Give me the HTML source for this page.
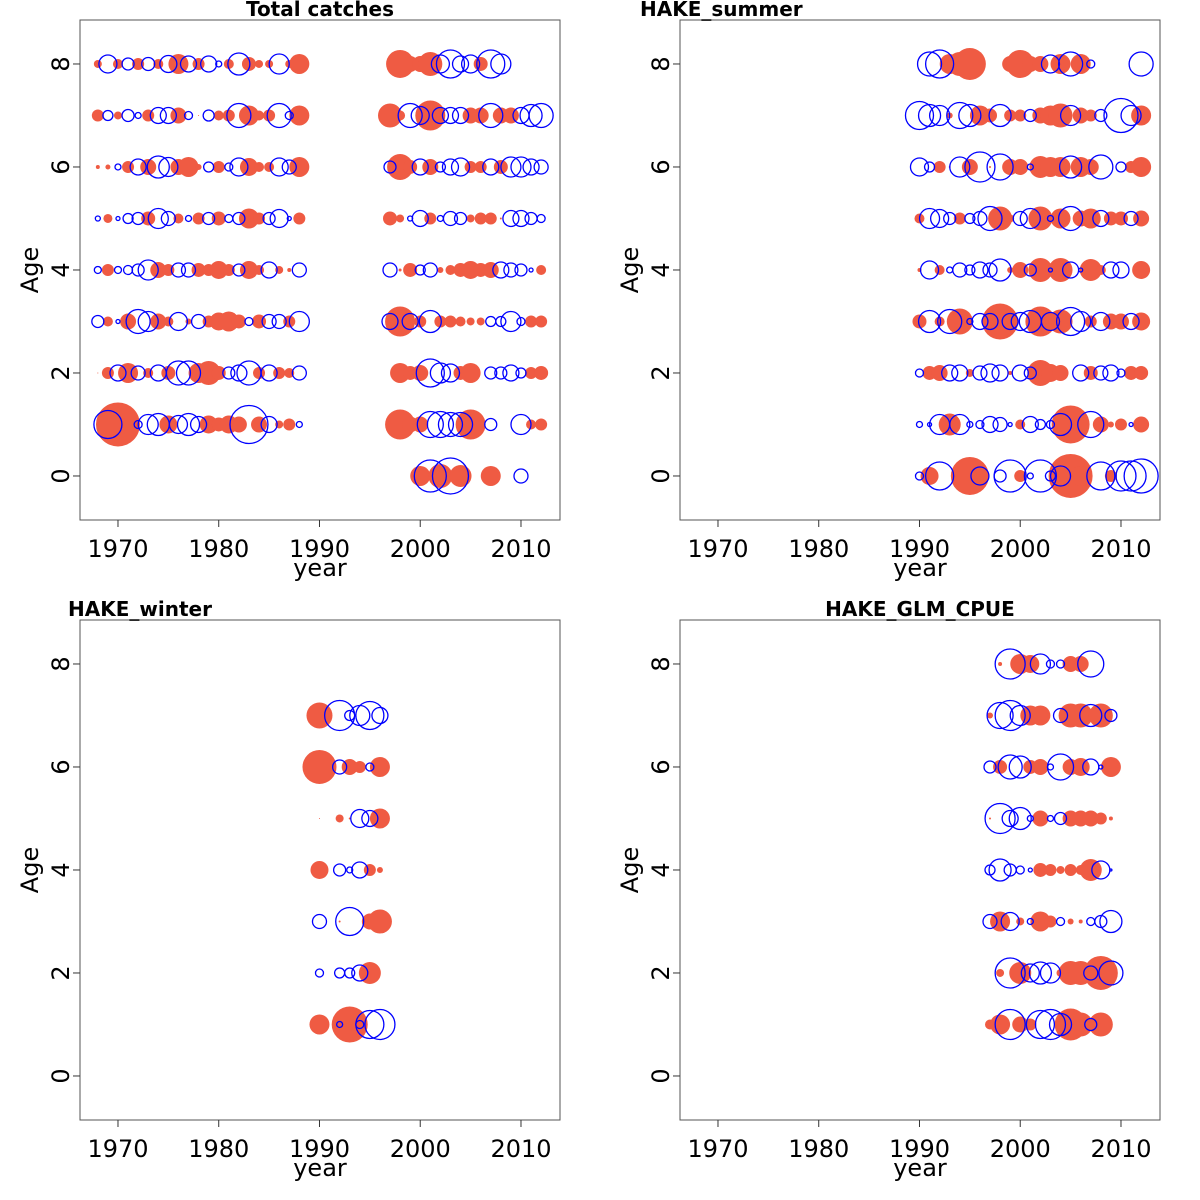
<!DOCTYPE html>
<html><head><meta charset="utf-8"><title>Residual bubble plots</title>
<style>
html,body{margin:0;padding:0;background:#fff;}
svg{display:block;font-family:"DejaVu Sans","Liberation Sans",sans-serif;}
</style></head>
<body>
<svg id="chart" width="1200" height="1200" viewBox="0 0 1200 1200" xmlns="http://www.w3.org/2000/svg"></svg>
<script>
// ---- data (signed residuals; positive = filled red, negative = open blue) ----
const xTicks = [1970, 1980, 1990, 2000, 2010];
const yTicks = [0, 2, 4, 6, 8];

const tcYears = [1968,1969,1970,1971,1972,1973,1974,1975,1976,1977,1978,1979,1980,1981,1982,1983,1984,1985,1986,1987,1988,
                 1997,1998,1999,2000,2001,2002,2003,2004,2005,2006,2007,2008,2009,2010,2011,2012];
const tcAge8 = [4,-9,5,-6,6,-6.5,5,-8.5,10,-8,6,-8,-3,5,-11,7,4,4,-10,4,10,
                0,14,8,8,12,-9,-14,-8,-9,7,-14,-10,0,0,0,0];
const tcAge7 = [6,-5,4,-6,-3,6,-8,-8,8,-4,0.5,-5.5,5,6,-12,10,5,6,-12,-4,10,
                12,5,-12,-9,15,-8,-8,-8,8,8,-12,8,8,-8,-11,-12];
const tcAge6 = [2,2.5,-3,6,-8,8,-11,-9.5,8,10,3,-5,6,-4,-9,9,5,5,-9,-7,10,
                -6,13,7,-8,8,-5,-8,-9,6,6,-8,7,-10,-10,-8,-7];
const tcAge5 = [-2.5,4.5,-2,-5,-6,7,-10,-7,5,-3,6,-6,7,-4,-6,10,6,-6,-9,-2,6,
                7,4,-2.5,-8,6,-3,-7,-6,4,6,6,1,-8,-8,-6,-4];
const tcAge4 = [-3.5,6,-3.5,-4.5,-6,-10,8,6,-7,-7,7,6,9,6,-6,9,5,-8,4,2,-7,
                -7,1.5,7,-5,-7,3,5,7,9,7,8,-8,-7,-6,-2,5];
const tcAge3 = [-6,5,-2,8,-12,-10,8,5,-9,3,-7,6,9,10,7,-4,7,-7,-7,6,-10,
                -8,15,-8,6,-11,6,6,5,4,4,-5,-5,-10,-4,6,6];
const tcAge2 = [0.5,6,-8,10,-7,5,-8,7,-12,-12,10,12,7,-6,-8,-12,6,-8,6,5,-7,
                0,10,7,8,-14,-10,-9,7,10,0,-6,-6,-8,-5,6,7];
const tcAge1 = [0,-14,22,0,-4,-10,-11,9,-9,-11,-8,9,7,9,8,-19,8,-8,4,6,-3,
                0,15,8,8,-13,-13,-12,-12,15,0,-6,0,0,-10,5,6];
const tcAge0 = [0,0,0,0,0,0,0,0,0,0,0,0,0,0,0,0,0,0,0,0,0,
                0,0,0,10,-16,12,-18,11,0,0,10,0,0,-7,0,0];

const suYears = [1990,1991,1992,1993,1994,1995,1996,1997,1998,1999,2000,2001,2002,2003,2004,2005,2006,2007,2008,2009,2010,2011,2012];
const suAge8 = [0,-12,-14,10,12,16,0,0,0,8,14,8,8,-9,10,-12,10,-4,0,0,0,0,-12];
const suAge7 = [-14,-11,-10,3,-13,-11,10,7,-11,6,6,-6,8,10,12,-10,8,6,-6,0,-17,-10,10];
const suAge6 = [-9,-5,6,1,-10,8,-15,1,-13,8,8,-3,11,10,10,-11,10,8,-12,0,-5,6,10];
const suAge5 = [5,-10,-9,-6,6,-5,-7,-12,12,4,-7,-10,12,-3,10,-12,8,10,-8,7,7,-7,8];
const suAge4 = [2,-9,5,-3,-7,-5,-8,-7,-11,3,8,-6,12,-2,12,-8,-2,11,5,-8,-8,0,9];
const suAge3 = [7,-11,5,-12,13,-3,-8,-8,18,-8,-9,-11,15,-9,12,-14,-10,6,-9,8,8,-8,9];
const suAge2 = [-4,7,8,-8,-8,4,-7,-9,-8,2,-8,-6,13,9,8,0,-8,7,-7,-8,-4,7,7];
const suAge1 = [-3,-2,-10,11,-10,-3,-4,-8,-7,-2,5,-8,-5,-4,-11,19,0,-13,8,3,6,-2,8];
const suAge0 = [-4,9,-14,0,0,19,-9,0,-6,-16,6,-3,-16,-5,-10,22,10,0,-14,6,-15,-15,-17];

const wiYears = [1990,1991,1992,1993,1994,1995,1996];
const wiAge7 = [13,0,-15,-5,-10,-14,-8];
const wiAge6 = [17,0,-7,8,6,-4,10];
const wiAge5 = [0.5,0,4,1,-9,-8,10];
const wiAge4 = [9,0,-6,-3,-8,6,3];
const wiAge3 = [-7,0,1,-14,0,8,12];
const wiAge2 = [-4,0,-5,-5,-8,11,0];
const wiAge1 = [10,0,-3,18,-4,-14,-15];

const cpYears = [1997,1998,1999,2000,2001,2002,2003,2004,2005,2006,2007,2008,2009];
const cpAge8 = [0,2,-15,10,9,-10,-4,-4,8,8,-13,0,0];
const cpAge7 = [3,-13,-15,-10,10,10,0,-7,12,12,-11,12,-6];
const cpAge6 = [-6,7,-12,-11,7,8,-3,-13,8,9,-8,-2,10];
const cpAge5 = [1,-15,-8,-11,-3,8,-3,-6,8,8,8,6,2];
const cpAge4 = [-5,-11,-6,-4,-2,7,6,4,6,5,11,-9,-1];
const cpAge3 = [-7,10,-9,4,-3,10,6,-4,3,2,-4,-6,-11];
const cpAge2 = [0,4,-15,11,-9,-11,-10,4,12,12,-7,17,-12];
const cpAge1 = [5,10,-15,8,6,-14,-15,-11,16,12,-6,12,0];

// ---- rendering ----
const NS = "http://www.w3.org/2000/svg";
const svg = document.getElementById('chart');
const RED = "#EF5B43", BLUE = "#0000FF";
const X0 = 1966.23, XPX = 10.075, Y0 = 8.854, YPX = 51.5, BUBBLE = 1.0;

function mk(tag, attrs, parent) {
  const e = document.createElementNS(NS, tag);
  for (const k in attrs) e.setAttribute(k, attrs[k]);
  (parent || svg).appendChild(e);
  return e;
}

const panels = [
  {key:'total-catches', title:'Total catches', tx:320, anchor:'middle', left:80, top:20, years:tcYears,
   rows:[[8,tcAge8],[7,tcAge7],[6,tcAge6],[5,tcAge5],[4,tcAge4],[3,tcAge3],[2,tcAge2],[1,tcAge1],[0,tcAge0]]},
  {key:'hake-summer', title:'HAKE_summer', tx:640, anchor:'start', left:680, top:20, years:suYears,
   rows:[[8,suAge8],[7,suAge7],[6,suAge6],[5,suAge5],[4,suAge4],[3,suAge3],[2,suAge2],[1,suAge1],[0,suAge0]]},
  {key:'hake-winter', title:'HAKE_winter', tx:68, anchor:'start', left:80, top:620, years:wiYears,
   rows:[[7,wiAge7],[6,wiAge6],[5,wiAge5],[4,wiAge4],[3,wiAge3],[2,wiAge2],[1,wiAge1]]},
  {key:'hake-glm-cpue', title:'HAKE_GLM_CPUE', tx:920, anchor:'middle', left:680, top:620, years:cpYears,
   rows:[[8,cpAge8],[7,cpAge7],[6,cpAge6],[5,cpAge5],[4,cpAge4],[3,cpAge3],[2,cpAge2],[1,cpAge1]]}
];

panels.forEach(p => {
  const g = mk('g', {});
  
  
  const xs = yr => p.left + (yr - X0) * XPX;
  const ys = a => p.top + (Y0 - a) * YPX;
  const W = 480, H = 500;

  const t = mk('text', {x:p.tx, y:p.top - 4, 'text-anchor':p.anchor, 'font-size':20, 'font-weight':'bold', fill:'#000'}, g);
  t.textContent = p.title;
  
  

  const box = mk('rect', {x:p.left, y:p.top, width:W, height:H, fill:'none', stroke:'#555', 'stroke-width':1}, g);
  
  

  const xa = mk('g', {}, g);
  
  
  xTicks.forEach(v => {
    const x = xs(v);
    mk('line', {x1:x, x2:x, y1:p.top+H, y2:p.top+H+7, stroke:'#333', 'stroke-width':1}, xa);
    const tl = mk('text', {x:x, y:p.top+H+37, 'text-anchor':'middle', 'font-size':24, fill:'#000'}, xa);
    tl.textContent = v;
    
    
  });
  const xt = mk('text', {x:p.left+240, y:p.top+H+56, 'text-anchor':'middle', 'font-size':24, fill:'#000'}, xa);
  xt.textContent = 'year';
  
  

  const ya = mk('g', {}, g);
  
  
  yTicks.forEach(v => {
    const y = ys(v);
    mk('line', {x1:p.left-7, x2:p.left, y1:y, y2:y, stroke:'#333', 'stroke-width':1}, ya);
    const tl = mk('text', {x:0, y:0, 'text-anchor':'middle', 'font-size':24, fill:'#000',
      transform:'translate(' + (p.left-11) + ',' + y + ') rotate(-90)'}, ya);
    tl.textContent = v;
    
    
  });
  const yt = mk('text', {x:0, y:0, 'text-anchor':'middle', 'font-size':24, fill:'#000',
    transform:'translate(' + (p.left-42) + ',' + (p.top+250) + ') rotate(-90)'}, ya);
  yt.textContent = 'Age';
  
  

  const bg = mk('g', {}, g);
  
  
  [1, -1].forEach(sign => {
    p.rows.forEach(([age, vals]) => {
      vals.forEach((v, i) => {
        if (!v || Math.sign(v) !== sign) return;
        const r = Math.abs(v) * BUBBLE;
        const c = mk('circle', {cx:xs(p.years[i]), cy:ys(age), r:r,
          fill: sign > 0 ? RED : 'none', stroke: sign > 0 ? 'none' : BLUE, 'stroke-width': sign > 0 ? 0 : 1.3}, bg);
        
        
      });
    });
  });
});
</script>
</body></html>
